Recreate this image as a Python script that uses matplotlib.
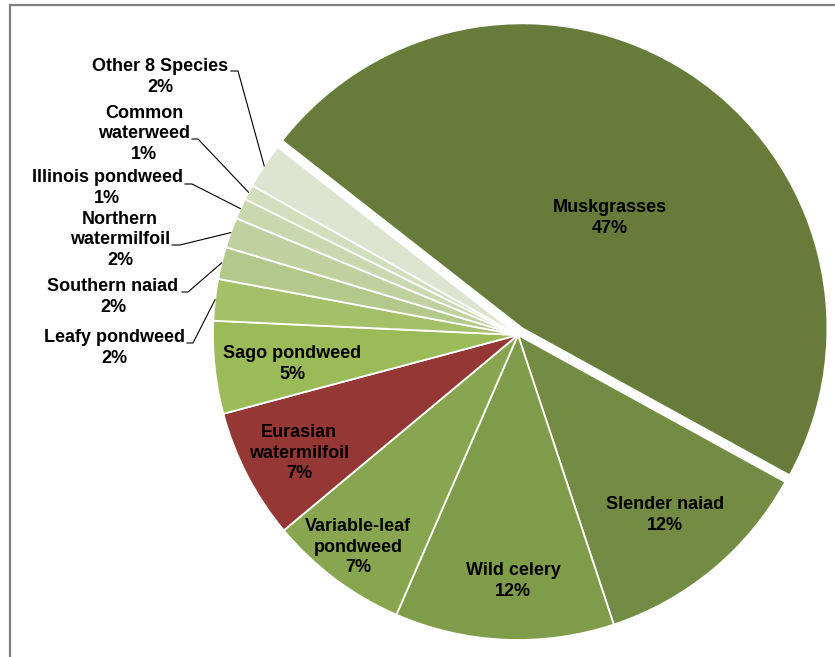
import numpy as np
import matplotlib.pyplot as plt

plt.rcParams['font.family'] = ['Liberation Sans', 'DejaVu Sans']

# data (share of plant frequency, %)
species = ["Muskgrasses", "Slender naiad", "Wild celery", "Variable-leaf\npondweed",
           "Eurasian\nwatermilfoil", "Sago pondweed", "Leafy pondweed", "Southern naiad",
           "Northern\nwatermilfoil", "Illinois pondweed", "Common\nwaterweed", "Other 8 Species"]
share = [47.4, 11.9, 11.6, 7.4, 6.9, 4.9, 2.2, 1.7, 1.6, 1.1, 0.8, 2.4]

colors = ["#677C3A", "#738B42", "#7F9C4A", "#88A54F", "#953735", "#9BBB59",
          "#A4C16A", "#B2C98B", "#BFD19F", "#C9D8AF", "#D2DFBE", "#DDE5D0"]

W, H = 835, 657
def px(x, y):
    return x, H - y

# label layout in pixel coords (centre of text block)
label_pos = [(610, 218), (665, 515), (513, 581), (358, 547), (299, 453), (292, 364),
             (114, 348), (113, 297), (120, 240), (107, 188), (144, 134), (160, 77)]
# leader elbow (start, end of short horizontal, y) for outside labels
leader = {6: (187, 193, 343), 7: (182, 188, 292), 8: (172, 180, 245),
          9: (185, 192, 184), 10: (192, 198, 139), 11: (231, 238, 71)}

fig = plt.figure(figsize=(8.35, 6.57), dpi=100)
ax = fig.add_axes([0, 0, 1, 1])
explode = [8] + [0] * (len(share) - 1)   # pie explode is in data units here (px)
wedges, _ = ax.pie(share, colors=colors, startangle=142, counterclock=False,
                   explode=explode, center=px(518, 335), radius=305,
                   wedgeprops=dict(edgecolor="white", linewidth=1.3))
ax.set_xlim(0, W)
ax.set_ylim(0, H)
ax.set_aspect("equal")
ax.axis("off")

for i, (name, v) in enumerate(zip(species, share)):
    x, y = label_pos[i]
    ax.text(*px(x, y), f"{name}\n{v:.0f}%", ha="center", va="center",
            fontsize=13, fontweight="bold", linespacing=1.25, color="black")
    if i in leader:
        x0, x1, ly = leader[i]
        w = wedges[i]
        a = np.deg2rad((w.theta1 + w.theta2) / 2)
        ex = w.center[0] + w.r * np.cos(a)
        ey = w.center[1] + w.r * np.sin(a)
        ax.plot([x0, x1, ex], [H - ly, H - ly, ey], color="black", lw=0.8)

# chart border (only left and top show)
fig.add_artist(plt.Line2D([10 / W, 10 / W], [0, 1 - 5 / H], color="#808080", lw=1.6))
fig.add_artist(plt.Line2D([10 / W, 1], [1 - 5 / H, 1 - 5 / H], color="#808080", lw=1.6))

fig.savefig("out.png", dpi=100, facecolor="white")
